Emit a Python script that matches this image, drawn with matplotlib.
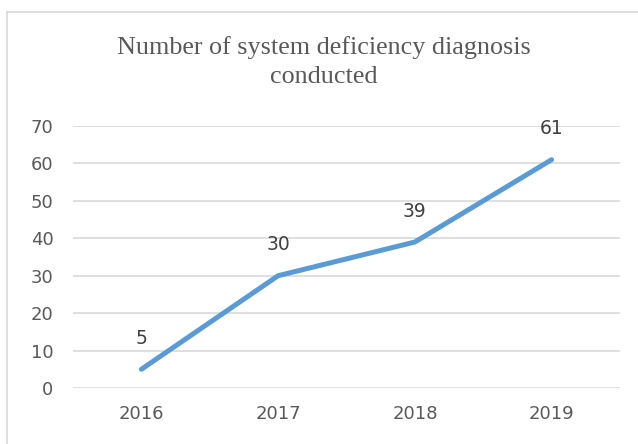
import matplotlib.pyplot as plt
from matplotlib.lines import Line2D

years = ['2016', '2017', '2018', '2019']
counts = [5, 30, 39, 61]
yticks = [0, 10, 20, 30, 40, 50, 60, 70]

fig = plt.figure(figsize=(6.38, 4.44), dpi=100)
ax = fig.add_axes([73 / 638, 1 - 388 / 444, 547 / 638, 262 / 444])

x = range(len(years))
ax.plot(x, counts, color='#5B9BD5', lw=3.6, solid_capstyle='round', solid_joinstyle='round', zorder=3)

# подписи значений
for xi, v in zip(x, counts):
    ax.annotate(str(v), (xi, v), xytext=(0, 31), textcoords='offset pixels',
                ha='center', va='center', fontsize=13.5, color='#404040', family='DejaVu Sans')

ax.set_xlim(-0.5, 3.5)
ax.set_ylim(0, 70)
ax.set_yticks(yticks)
ax.set_xticks(list(x))
ax.set_xticklabels(years)
ax.grid(axis='y', color='#d9d9d9', lw=1.2)
ax.set_axisbelow(True)
for s in ax.spines.values():
    s.set_visible(False)
ax.tick_params(length=0, labelsize=13, labelcolor='#595959')
ax.tick_params(axis='y', pad=14)
ax.tick_params(axis='x', pad=12)

fig.text(0.508, 1 - 62 / 444, 'Number of system deficiency diagnosis\nconducted',
         ha='center', va='center', fontsize=18.8, color='#595959',
         family='Liberation Serif', linespacing=1.42)

# рамка диаграммы
fig.add_artist(Line2D([7 / 638, 7 / 638], [0, 1 - 12 / 444], color='#d9d9d9', lw=1.2))
fig.add_artist(Line2D([7 / 638, 1], [1 - 12 / 444, 1 - 12 / 444], color='#d9d9d9', lw=1.2))

fig.savefig('out.png', dpi=100)
